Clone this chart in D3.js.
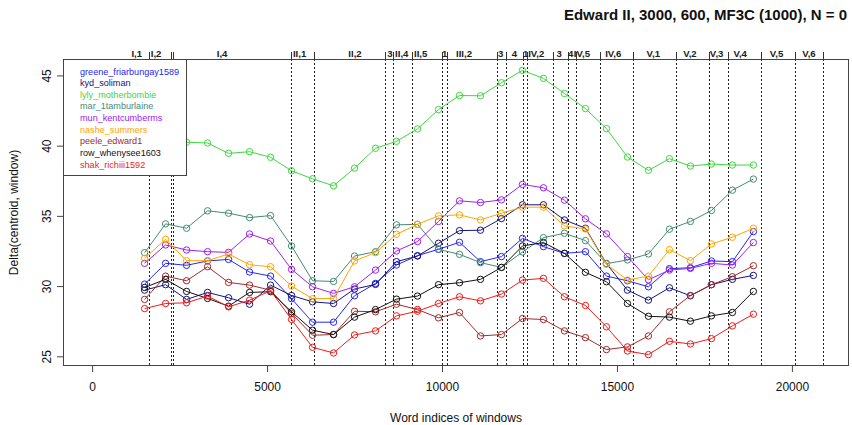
<!DOCTYPE html>
<html>
<head>
<meta charset="utf-8">
<script src="https://cdn.jsdelivr.net/npm/d3@7"></script>
<style>
  body { margin: 0; background: #fff; }
  svg { display: block; font-family: "Liberation Sans", Arial, Helvetica, sans-serif; }
</style>
</head>
<body>
<svg id="chart" width="852" height="425"></svg>
<script>
// Window centres (word index) of the 3000-word windows, step 600
const windowCenters = [1500, 2100, 2700, 3300, 3900, 4500, 5100, 5700, 6300, 6900,
  7500, 8100, 8700, 9300, 9900, 10500, 11100, 11700, 12300, 12900,
  13500, 14100, 14700, 15300, 15900, 16500, 17100, 17700, 18300, 18900];

// Delta(centroid, window) for each reference play
const greene = [30.14, 31.62, 31.48, 31.79, 31.90, 31.00, 30.71, 29.10, 27.43, 27.43,
  29.31, 30.19, 31.50, 32.17, 32.62, 33.12, 31.74, 32.10, 33.40, 32.81,
  32.33, 32.45, 30.71, 30.38, 29.95, 31.24, 31.31, 31.79, 31.74, 33.88];
const kyd = [29.71, 30.10, 29.05, 29.55, 29.17, 28.71, 30.07, 29.33, 28.88, 28.76,
  29.79, 30.12, 31.74, 32.14, 33.05, 33.95, 33.98, 34.81, 35.79, 35.79,
  34.71, 34.12, 31.60, 29.71, 29.00, 29.88, 29.31, 30.10, 30.48, 30.76];
const lyly = [40.50, 40.35, 40.24, 40.19, 39.45, 39.57, 39.17, 38.21, 37.64, 37.14,
  38.40, 39.81, 40.31, 41.19, 42.57, 43.57, 43.55, 44.48, 45.36, 44.79,
  43.71, 42.64, 41.21, 39.19, 38.24, 39.07, 38.55, 38.69, 38.62, 38.62];
const mar = [32.38, 34.43, 34.12, 35.36, 35.19, 34.88, 35.02, 32.86, 30.38, 30.33,
  32.14, 32.45, 34.36, 34.40, 32.62, 32.26, 31.67, 31.33, 32.43, 33.45,
  33.76, 33.24, 31.60, 31.86, 32.29, 34.05, 34.60, 35.38, 36.83, 37.62];
const mun = [31.62, 32.93, 32.57, 32.45, 32.40, 33.71, 33.21, 31.19, 29.95, 29.48,
  29.95, 31.14, 32.50, 33.17, 34.60, 36.07, 35.95, 36.14, 37.24, 37.00,
  36.12, 34.79, 33.72, 32.10, 30.45, 31.14, 31.26, 31.62, 31.50, 33.10];
const nashe = [31.98, 33.33, 31.81, 31.81, 32.29, 31.52, 31.38, 30.00, 29.10, 29.12,
  31.79, 32.38, 33.69, 34.40, 35.00, 35.07, 34.71, 35.19, 35.62, 35.62,
  34.29, 34.07, 31.55, 30.43, 30.71, 32.60, 31.81, 33.00, 33.48, 34.12];
const peele = [29.05, 30.71, 30.38, 31.38, 30.26, 30.07, 29.71, 28.05, 26.50, 26.55,
  28.21, 28.17, 28.71, 28.33, 27.74, 28.12, 26.45, 26.55, 27.69, 27.62,
  26.81, 26.33, 25.48, 25.67, 26.45, 28.17, 29.33, 30.10, 30.67, 31.45];
const row = [29.90, 30.48, 29.62, 29.12, 28.57, 29.55, 29.60, 28.17, 26.86, 26.55,
  27.79, 28.33, 29.07, 29.29, 30.10, 30.24, 30.48, 31.33, 32.86, 33.10,
  32.33, 30.98, 30.31, 28.76, 27.85, 27.79, 27.50, 27.88, 28.12, 29.62];
const shak = [28.40, 28.76, 28.81, 29.29, 28.52, 29.00, 29.67, 27.62, 25.64, 25.24,
  26.52, 26.81, 27.88, 28.21, 28.76, 29.24, 28.95, 29.43, 30.43, 30.55,
  29.24, 28.62, 27.10, 25.38, 25.12, 26.07, 25.88, 26.26, 27.17, 28.00];

const playNames = ["greene_friarbungay1589", "kyd_soliman", "lyly_motherbombie",
  "mar_1tamburlaine", "mun_kentcumberms", "nashe_summers", "peele_edward1",
  "row_whenysee1603", "shak_richiii1592"];
const playValues = [greene, kyd, lyly, mar, mun, nashe, peele, row, shak];
const playColors = ["#2626f0", "#14147e", "#3ed83e", "#458b74", "#a020f0",
  "#ffa500", "#a52a2a", "#111111", "#f01c1c"];

// Scene ends (word index) of Edward II
const sceneEnds = [1629, 2257, 2300, 5677, 6334, 8357, 8591, 9134, 9994, 10151,
  11563, 11829, 12306, 12434, 13163, 13600, 13829, 14523, 15449, 16694,
  17637, 18180, 19106, 20086, 20894];
const sceneLabels = ["I,1", "I,2", "I,4", "II,1", "II,2", "3", "II,4", "II,5", "1", "III,2",
  "3", "4", "1", "IV,2", "3", "4", "IV,5", "IV,6", "V,1", "V,2", "V,3", "V,4", "V,5", "V,6"];
const sceneLabelAt = [1277, 1829, 3714, 5929, 7514, 8514, 8849, 9391, 10074, 10629,
  11677, 12071, 12391, 12694, 13351, 13677, 14000, 14894, 16037, 17086,
  17849, 18523, 19563, 20486];

const xTicks = [0, 5000, 10000, 15000, 20000];
const yTicks = [25, 30, 35, 40, 45];
const textLength = 20800;

const titleText = "Edward II, 3000, 600, MF3C (1000), N = 0";
const xTitle = "Word indices of windows";
const yTitle = "Delta(centroid, window)";

// ---- layout ----
const W = 852, H = 425;
const box = { left: 63, right: 849, top: 59, bottom: 366 };

// R-style 4% padding around the data range
function padded(lo, hi) { const d = (hi - lo) * 0.04; return [lo - d, hi + d]; }
const allVals = playValues.flat();
const x = d3.scaleLinear().domain(padded(0, textLength)).range([box.left, box.right]);
const y = d3.scaleLinear().domain(padded(d3.min(allVals), d3.max(allVals))).range([box.bottom, box.top]);

const svg = d3.select("#chart");
svg.append("rect").attr("width", W).attr("height", H).attr("fill", "#fff");

svg.append("clipPath").attr("id", "plotclip").append("rect")
  .attr("x", box.left).attr("y", box.top)
  .attr("width", box.right - box.left).attr("height", box.bottom - box.top);

const plot = svg.append("g").attr("clip-path", "url(#plotclip)");

// scene separators
plot.append("g").selectAll("line").data(sceneEnds).join("line")
  .attr("x1", d => Math.round(x(d)) + 0.5).attr("x2", d => Math.round(x(d)) + 0.5)
  .attr("y1", box.top).attr("y2", box.bottom)
  .attr("stroke", "#222").attr("stroke-width", 1)
  .attr("stroke-dasharray", "2,2");

// series
const line = d3.line().x((d, i) => x(windowCenters[i])).y(d => y(d));
playValues.forEach((vals, k) => {
  const g = plot.append("g");
  g.append("path").attr("d", line(vals))
    .attr("fill", "none").attr("stroke", playColors[k]).attr("stroke-width", 1);
  g.selectAll("circle").data(vals).join("circle")
    .attr("cx", (d, i) => x(windowCenters[i])).attr("cy", d => y(d))
    .attr("r", 3.2).attr("fill", "none")
    .attr("stroke", playColors[k]).attr("stroke-width", 1);
});

// legend (top-left, coloured text)
const legendG = svg.append("g");
const lgW = 123, lgH = 116, lgRow = 11.65;
legendG.append("rect").attr("x", box.left + 0.5).attr("y", box.top + 0.5)
  .attr("width", lgW).attr("height", lgH)
  .attr("fill", "#fff").attr("stroke", "#444").attr("stroke-width", 1);
legendG.selectAll("text").data(playNames).join("text")
  .attr("x", box.left + 17)
  .attr("y", (d, i) => box.top + 15.5 + i * lgRow)
  .attr("font-size", 9.1)
  .attr("fill", (d, i) => playColors[i])
  .text(d => d);

// frame
svg.append("rect").attr("x", box.left + 0.5).attr("y", box.top + 0.5)
  .attr("width", box.right - box.left - 1).attr("height", box.bottom - box.top - 1)
  .attr("fill", "none").attr("stroke", "#444").attr("stroke-width", 1);

// bottom axis
const xAxisG = svg.append("g").attr("transform", `translate(0,${box.bottom})`)
  .call(d3.axisBottom(x).tickValues(xTicks).tickFormat(d3.format("d")).tickSize(6).tickPadding(10));
xAxisG.select(".domain").remove();
xAxisG.selectAll("line").attr("stroke", "#444");
xAxisG.selectAll("text").attr("font-size", 12).attr("fill", "#111")
  .attr("font-family", "'Liberation Sans', Arial, sans-serif");

// left axis with labels parallel to the axis
const yAxisG = svg.append("g").attr("transform", `translate(${box.left},0)`)
  .call(d3.axisLeft(y).tickValues(yTicks).tickSize(6));
yAxisG.select(".domain").remove();
yAxisG.selectAll("line").attr("stroke", "#444");
yAxisG.selectAll("text")
  .attr("x", null).attr("dy", null)
  .attr("text-anchor", "middle")
  .attr("transform", "translate(-12,0) rotate(-90)")
  .attr("font-size", 12).attr("fill", "#111")
  .attr("font-family", "'Liberation Sans', Arial, sans-serif");

// top: scene ticks and labels
const sceneAxisG = svg.append("g");
sceneAxisG.selectAll("line").data(sceneEnds).join("line")
  .attr("x1", d => Math.round(x(d)) + 0.5).attr("x2", d => Math.round(x(d)) + 0.5)
  .attr("y1", box.top).attr("y2", box.top - 7)
  .attr("stroke", "#333").attr("stroke-width", 1);
sceneAxisG.selectAll("text").data(sceneLabels).join("text")
  .attr("x", (d, i) => x(sceneLabelAt[i]))
  .attr("y", box.top - 2.5)
  .attr("text-anchor", "middle")
  .attr("font-size", 9.6).attr("font-weight", "bold").attr("fill", "#222")
  .text(d => d);

// titles
svg.append("text").attr("x", 847).attr("y", 20).attr("text-anchor", "end")
  .attr("font-size", 15).attr("font-weight", "bold").attr("fill", "#111")
  .text(titleText);
svg.append("text").attr("x", (box.left + box.right) / 2).attr("y", 422)
  .attr("text-anchor", "middle").attr("font-size", 12).attr("fill", "#111")
  .text(xTitle);
svg.append("text")
  .attr("transform", `translate(18,${(box.top + box.bottom) / 2}) rotate(-90)`)
  .attr("text-anchor", "middle").attr("font-size", 12).attr("fill", "#111")
  .text(yTitle);
</script>
</body>
</html>
